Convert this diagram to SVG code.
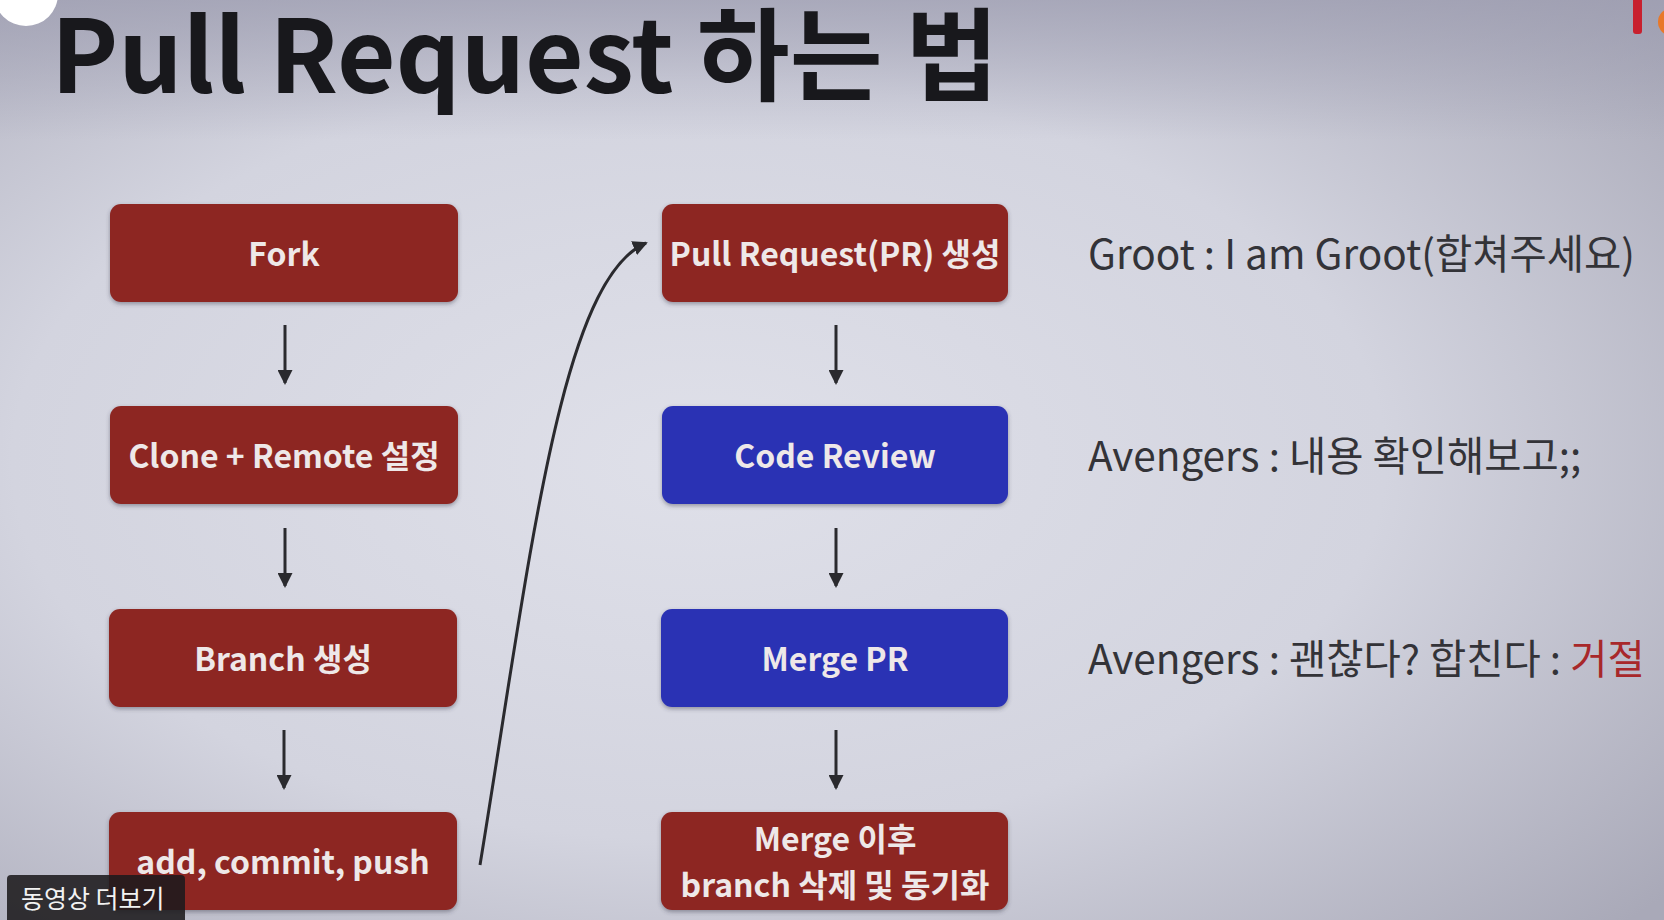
<svg xmlns="http://www.w3.org/2000/svg" width="1664" height="920" viewBox="0 0 1664 920">
<defs>
<radialGradient id="bg" cx="0.42" cy="0.5" r="0.75">
<stop offset="0" stop-color="#dfe0e9"/>
<stop offset="0.55" stop-color="#d3d4df"/>
<stop offset="1" stop-color="#a9a9b8"/>
</radialGradient>
<linearGradient id="topshade" x1="0" y1="0" x2="0" y2="1">
<stop offset="0" stop-color="#9c9cb0" stop-opacity="0.7"/>
<stop offset="1" stop-color="#9c9cb0" stop-opacity="0"/>
</linearGradient>
<marker id="ah" markerWidth="15" markerHeight="15" refX="13" refY="7.5" orient="auto" markerUnits="userSpaceOnUse">
<path d="M0,0 L15,7.5 L0,15 Z" fill="#2a2a2e"/>
</marker>
<filter id="sh" x="-5%" y="-10%" width="110%" height="130%">
<feDropShadow dx="0" dy="2" stdDeviation="2" flood-color="#3a3a4a" flood-opacity="0.45"/>
</filter>
<style>
.red{fill:#8d2823;filter:url(#sh)}
.blue{fill:#2b33b4;filter:url(#sh)}
.lbl{font-family:"Noto Sans CJK KR","Noto Sans",sans-serif;font-weight:700;font-size:32px;fill:#eee8e8;text-anchor:middle}
.note{font-family:"Noto Sans CJK KR","Noto Sans",sans-serif;font-size:40.5px;fill:#333338}
.arr{stroke:#2a2a2e;stroke-width:3;fill:none}
</style>
</defs>
<rect width="1664" height="920" fill="url(#bg)"/>
<rect width="1664" height="140" fill="url(#topshade)"/>

<text x="51" y="93" font-family="'Noto Sans CJK KR','Noto Sans',sans-serif" font-weight="700" font-size="101" fill="#18181c">Pull Request 하는 법</text>

<g id="connectors">
<line class="arr" x1="285" y1="325" x2="285" y2="383" marker-end="url(#ah)"/>
<line class="arr" x1="285" y1="528" x2="285" y2="586" marker-end="url(#ah)"/>
<line class="arr" x1="284" y1="730" x2="284" y2="788" marker-end="url(#ah)"/>
<line class="arr" x1="836" y1="325" x2="836" y2="383" marker-end="url(#ah)"/>
<line class="arr" x1="836" y1="528" x2="836" y2="586" marker-end="url(#ah)"/>
<line class="arr" x1="836" y1="730" x2="836" y2="788" marker-end="url(#ah)"/>
<path class="arr" d="M480,865 C530,560 560,280 646,243" marker-end="url(#ah)"/>
</g>

<g id="fork"><rect class="red" x="110" y="204" width="348" height="98" rx="11"/><text class="lbl" x="284" y="266">Fork</text></g>
<g id="clone"><rect class="red" x="110" y="406" width="348" height="98" rx="11"/><text class="lbl" x="284" y="468">Clone + Remote 설정</text></g>
<g id="branch"><rect class="red" x="109" y="609" width="348" height="98" rx="11"/><text class="lbl" x="283" y="671">Branch 생성</text></g>
<g id="push"><rect class="red" x="109" y="812" width="348" height="98" rx="11"/><text class="lbl" x="283" y="874">add, commit, push</text></g>

<g id="pr"><rect class="red" x="662" y="204" width="346" height="98" rx="11"/><text class="lbl" x="835" y="266">Pull Request(PR) 생성</text></g>
<g id="review"><rect class="blue" x="662" y="406" width="346" height="98" rx="11"/><text class="lbl" x="835" y="468">Code Review</text></g>
<g id="merge"><rect class="blue" x="661" y="609" width="347" height="98" rx="11"/><text class="lbl" x="835" y="671">Merge PR</text></g>
<g id="after"><rect class="red" x="661" y="812" width="347" height="98" rx="11"/><text class="lbl" x="835" y="851">Merge 이후</text><text class="lbl" x="835" y="897">branch 삭제 및 동기화</text></g>

<g id="notes">
<text class="note" x="1088" y="269">Groot : I am Groot(합쳐주세요)</text>
<text class="note" x="1088" y="471">Avengers : 내용 확인해보고;;</text>
<text class="note" x="1088" y="674">Avengers : 괜찮다? 합친다 : <tspan fill="#a8282a">거절</tspan></text>
</g>

<g id="overlay">
<circle cx="26" cy="-6" r="32" fill="#ffffff"/>
<rect x="1633" y="-4" width="9" height="38" rx="3" fill="#c8202e"/>
<circle cx="1672" cy="22" r="14" fill="#e8782a"/>
<rect x="7" y="875" width="178" height="50" rx="4" fill="#1c1a1c" fill-opacity="0.88"/>
<text x="21" y="908" font-family="'Noto Sans CJK KR','Noto Sans',sans-serif" font-size="25" fill="#f2f2f2">동영상 더보기</text>
</g>
</svg>
